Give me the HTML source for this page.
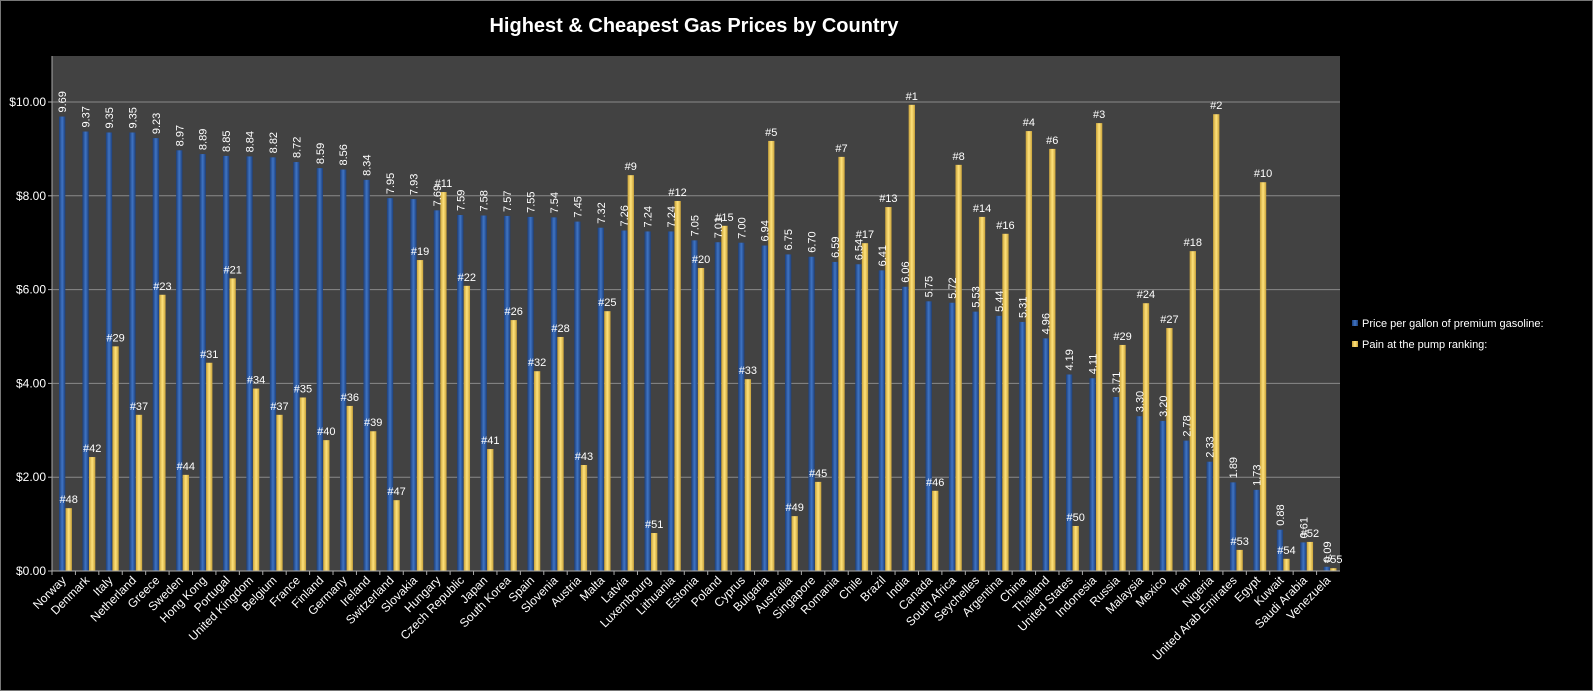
<!DOCTYPE html>
<html><head><meta charset="utf-8"><style>
html,body{margin:0;padding:0;background:#000;}
svg{display:block;font-family:"Liberation Sans",sans-serif;}
</style></head><body>
<svg id="chart" width="1593" height="691" xmlns="http://www.w3.org/2000/svg">
<defs>
<linearGradient id="gb" x1="0" x2="1" y1="0" y2="0"><stop offset="0" stop-color="#1d3f7a"/><stop offset="0.5" stop-color="#3f74c4"/><stop offset="1" stop-color="#1d3f7a"/></linearGradient>
<linearGradient id="gy" x1="0" x2="1" y1="0" y2="0"><stop offset="0" stop-color="#c9a23a"/><stop offset="0.5" stop-color="#ffe27a"/><stop offset="1" stop-color="#c9a23a"/></linearGradient>
</defs>
<rect x="0.5" y="0.5" width="1592" height="690" fill="#000" stroke="#777"/>
<text x="694" y="32" fill="#fff" font-size="20" font-weight="bold" text-anchor="middle">Highest &amp; Cheapest Gas Prices by Country</text>
<rect x="52" y="56" width="1288" height="515" fill="#424242"/>
<g id="grid"></g><g id="bars"></g><g id="labels"></g><g id="axes"></g>
<g>
<rect x="1352" y="320" width="6" height="6" fill="url(#gb)"/>
<text x="1362" y="327" fill="#fff" font-size="11">Price per gallon of premium gasoline:</text>
<rect x="1352" y="341" width="6" height="6" fill="url(#gy)"/>
<text x="1362" y="348" fill="#fff" font-size="11">Pain at the pump ranking:</text>
</g>
</svg>
<script>
const countries=["Norway","Denmark","Italy","Netherland","Greece","Sweden","Hong Kong","Portugal","United Kingdom","Belgium","France","Finland","Germany","Ireland","Switzerland","Slovakia","Hungary","Czech Republic","Japan","South Korea","Spain","Slovenia","Austria","Malta","Latvia","Luxembourg","Lithuania","Estonia","Poland","Cyprus","Bulgaria","Australia","Singapore","Romania","Chile","Brazil","India","Canada","South Africa","Seychelles","Argentina","China","Thailand","United States","Indonesia","Russia","Malaysia","Mexico","Iran","Nigeria","United Arab Emirates","Egypt","Kuwait","Saudi Arabia","Venezuela"];
const prices=[9.69,9.37,9.35,9.35,9.23,8.97,8.89,8.85,8.84,8.82,8.72,8.59,8.56,8.34,7.95,7.93,7.69,7.59,7.58,7.57,7.55,7.54,7.45,7.32,7.26,7.24,7.24,7.05,7.01,7.00,6.94,6.75,6.70,6.59,6.54,6.41,6.06,5.75,5.72,5.53,5.44,5.31,4.96,4.19,4.11,3.71,3.30,3.20,2.78,2.33,1.89,1.73,0.88,0.61,0.09];
const painValues=[1.34,2.43,4.79,3.33,5.89,2.05,4.44,6.24,3.89,3.33,3.70,2.79,3.52,2.98,1.51,6.63,8.08,6.08,2.6,5.35,4.26,4.99,2.26,5.54,8.44,0.81,7.89,6.46,7.36,4.09,9.17,1.17,1.9,8.83,6.99,7.76,9.94,1.71,8.66,7.55,7.19,9.38,9.0,0.96,9.55,4.82,5.71,5.18,6.82,9.74,0.45,8.29,0.26,0.62,0.06];
const painRanks=[48,42,29,37,23,44,31,21,34,37,35,40,36,39,47,19,11,22,41,26,32,28,43,25,9,51,12,20,15,33,5,49,45,7,17,13,1,46,8,14,16,4,6,50,3,29,24,27,18,2,53,10,54,52,55];
const yTicks=[0,2,4,6,8,10];
const NS="http://www.w3.org/2000/svg";
const X0=52,X1=1340,Y0=571,PX=46.9;
const cw=(X1-X0)/countries.length;
const y=v=>Y0-v*PX;
const xc=i=>X0+i*cw;
function mk(tag,attrs,parent,txt){const e=document.createElementNS(NS,tag);for(const k in attrs)e.setAttribute(k,attrs[k]);if(txt!==undefined)e.textContent=txt;parent.appendChild(e);return e;}
const grid=document.getElementById('grid'),bars=document.getElementById('bars'),labels=document.getElementById('labels'),axes=document.getElementById('axes');
yTicks.forEach(t=>{
 if(t>0){const l=mk('line',{x1:X0,x2:X1,y1:y(t),y2:y(t),stroke:'#8a8a8a','stroke-width':1},grid);
 
 }
 const tx=mk('text',{x:X0-6,y:y(t)+4,fill:'#fff','font-size':12,'text-anchor':'end'},axes,'$'+t.toFixed(2));
 
 
 const tk=mk('line',{x1:X0-4,x2:X0,y1:y(t),y2:y(t),stroke:'#aaa'},axes);
 
 
});
const ax=mk('line',{x1:X0,x2:X0,y1:56,y2:Y0,stroke:'#aaa'},axes);


const xax=mk('line',{x1:X0,x2:X1,y1:Y0,y2:Y0,stroke:'#aaa'},axes);


countries.forEach((c,i)=>{
 const bx=xc(i)+cw*0.3,yx=xc(i)+cw*0.58,bw=cw*0.27;
 const b=mk('rect',{x:bx,y:y(prices[i]),width:bw,height:prices[i]*PX,fill:'url(#gb)'},bars);
 
 
 const p=mk('rect',{x:yx,y:y(painValues[i]),width:bw,height:painValues[i]*PX,fill:'url(#gy)'},bars);
 
 
 const lx=bx+bw/2+4,ly=y(prices[i])-4;
 const bl=mk('text',{x:lx,y:ly,fill:'#fff','font-size':11,transform:`rotate(-90 ${lx} ${ly})`},labels,prices[i].toFixed(2));
 
 
 const pl=mk('text',{x:yx+bw/2,y:y(painValues[i])-5,fill:'#fff','font-size':11,'text-anchor':'middle'},labels,'#'+painRanks[i]);
 
 
 const tk=mk('line',{x1:xc(i),x2:xc(i),y1:Y0,y2:Y0+4,stroke:'#aaa'},axes);
 
 
 const cx=xc(i)+cw/2+3,cy=Y0+10;
 const cl=mk('text',{x:cx,y:cy,fill:'#fff','font-size':12,'text-anchor':'end',transform:`rotate(-45 ${cx} ${cy})`},axes,c);
 
 
});
</script>
</body></html>
